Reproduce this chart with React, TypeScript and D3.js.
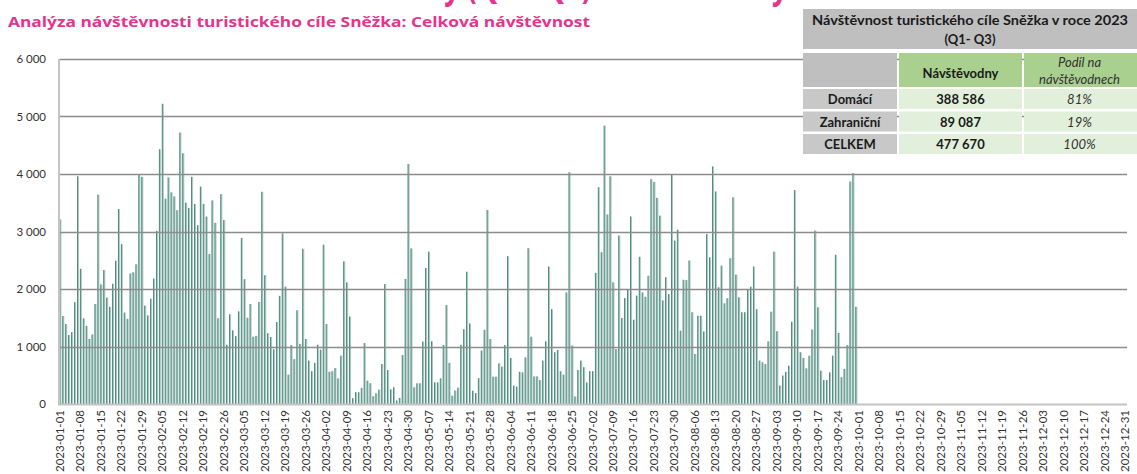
import React, { useRef, useEffect } from 'react';
import * as d3 from 'd3';

// daily visits 2023-01-01 .. 2023-09-30
const visits = [
  3210, 1530, 1390, 1200, 1250, 1770, 3960, 2350, 1490, 1360,
  1130, 1210, 1740, 3640, 2080, 2330, 1850, 1690, 2090, 2490,
  3390, 2780, 1590, 1480, 2270, 2290, 2430, 3990, 3950, 1710,
  1540, 1830, 2180, 3010, 4430, 5220, 3570, 3940, 3680, 3610,
  3370, 4720, 4360, 3500, 3410, 3950, 3480, 3110, 3780, 3480,
  3260, 2610, 3540, 3150, 1490, 3650, 3200, 1030, 1560, 1280,
  1180, 1610, 2890, 2170, 1500, 1740, 1170, 1185, 1775, 3690,
  2240, 1230, 1165, 950, 1425, 1880, 2965, 2040, 510, 1025,
  780, 1630, 1045, 2700, 1130, 755, 570, 715, 1030, 945,
  2770, 1390, 560, 570, 625, 445, 840, 2480, 2115, 1520,
  100, 205, 205, 280, 1060, 405, 360, 135, 185, 250,
  695, 2085, 590, 255, 290, 60, 105, 850, 2175, 4175,
  2705, 290, 360, 360, 1085, 2365, 2650, 1090, 375, 375,
  445, 1025, 1720, 715, 145, 235, 285, 1030, 1300, 2300,
  1400, 230, 190, 450, 930, 1290, 3375, 1130, 475, 475,
  705, 650, 1025, 2570, 800, 320, 300, 560, 550, 810,
  2710, 1170, 480, 480, 415, 755, 1090, 2390, 1650, 900,
  940, 570, 510, 1940, 4030, 1015, 130, 590, 755, 640,
  375, 570, 570, 2280, 3770, 2640, 4840, 3295, 3960, 2115,
  955, 2930, 1495, 1840, 1985, 3260, 1465, 1885, 2560, 1940,
  1865, 2230, 3910, 3860, 3585, 3275, 1800, 2205, 1910, 3985,
  2840, 3030, 1275, 2160, 2155, 2495, 1595, 870, 1535, 1535,
  1260, 2955, 2550, 4130, 3695, 2030, 2405, 1750, 1840, 2535,
  3595, 2250, 1855, 1595, 1595, 1985, 2040, 2390, 1650, 755,
  725, 695, 1090, 1605, 2650, 1265, 320, 495, 560, 665,
  1430, 3720, 2040, 900, 800, 620, 840, 1295, 3015, 1680,
  580, 415, 415, 550, 840, 2595, 1235, 465, 610, 1025,
  3870, 4015, 1690
];

const yTicks = [0, 1000, 2000, 3000, 4000, 5000, 6000];

const tableTitle = ['Návštěvnost turistického cíle Sněžka v roce 2023', '(Q1- Q3)'];
const tableRows = ['Domácí', 'Zahraniční', 'CELKEM'];
const tableVisitors = ['388 586', '89 087', '477 670'];
const tableShares = ['81%', '19%', '100%'];

const fmt = d3.timeFormat('%Y-%m-%d');

export default function App() {
  const svgRef = useRef(null);

  useEffect(() => {
    const width = 1137;
    const height = 474;
    const font = 'Lato, "Open Sans", sans-serif';

    // all days of the year are categories, data ends in September
    const days = d3.timeDay.range(new Date(2023, 0, 1), new Date(2024, 0, 1)).map(fmt);
    const tickDays = days.filter((d, i) => i % 7 === 0);

    const x = d3.scaleBand()
      .domain(days)
      .range([59, 1127])
      .paddingInner(0.33)
      .paddingOuter(0.15);

    const y = d3.scaleLinear()
      .domain([0, 6000])
      .range([404, 59]);

    const svg = d3.select(svgRef.current)
      .attr('width', width)
      .attr('height', height);
    svg.selectAll('*').remove();

    // heading above, cut off by the top edge
    svg.append('text')
      .attr('x', 180)
      .attr('y', -2)
      .attr('font-family', '"Open Sans", sans-serif')
      .attr('font-weight', 700)
      .attr('font-size', 38)
      .attr('fill', '#e6338c')
      .attr('textLength', 608)
      .attr('lengthAdjust', 'spacingAndGlyphs')
      .text('Návštěvnost Sněžky (Q1 – Q3) 2023 – Sněžky');

    svg.append('text')
      .attr('x', 8)
      .attr('y', 27)
      .attr('font-family', '"Open Sans", sans-serif')
      .attr('font-weight', 700)
      .attr('font-size', 15)
      .attr('fill', '#e6338c')
      .attr('textLength', 582)
      .attr('lengthAdjust', 'spacingAndGlyphs')
      .text('Analýza návštěvnosti turistického cíle Sněžka: Celková návštěvnost');

    // bars
    const bars = svg.append('g');
    bars.selectAll('rect.bar')
      .data(visits)
      .enter()
      .append('rect')
      .attr('class', 'bar')
      .attr('x', (d, i) => x(days[i]))
      .attr('y', d => y(d))
      .attr('width', x.bandwidth())
      .attr('height', d => y(0) - y(d))
      .attr('fill', '#a9c8c1');
    bars.selectAll('rect.edge')
      .data(visits)
      .enter()
      .append('rect')
      .attr('class', 'edge')
      .attr('x', (d, i) => x(days[i]))
      .attr('y', d => y(d))
      .attr('width', 0.8)
      .attr('height', d => y(0) - y(d))
      .attr('fill', '#3e7d6f');

    // gridlines
    svg.append('g')
      .selectAll('line')
      .data(yTicks.filter(d => d > 0))
      .enter()
      .append('line')
      .attr('x1', 59)
      .attr('x2', 1127)
      .attr('y1', d => Math.round(y(d)) + 0.5)
      .attr('y2', d => Math.round(y(d)) + 0.5)
      .attr('stroke', '#8c8c8c')
      .attr('stroke-width', 1.3);

    // axis lines
    svg.append('line')
      .attr('x1', 59).attr('x2', 59)
      .attr('y1', y(6000)).attr('y2', y(0) + 1)
      .attr('stroke', '#c4c4c4').attr('stroke-width', 2);
    svg.append('line')
      .attr('x1', 58).attr('x2', 1127)
      .attr('y1', y(0) + 0.5).attr('y2', y(0) + 0.5)
      .attr('stroke', '#c4c4c4').attr('stroke-width', 2);

    // y labels
    svg.append('g')
      .selectAll('text')
      .data(yTicks)
      .enter()
      .append('text')
      .attr('x', 46)
      .attr('y', d => y(d) + 4)
      .attr('text-anchor', 'end')
      .attr('font-family', font)
      .attr('font-size', 11.5)
      .attr('fill', '#333')
      .text(d => d === 0 ? '0' : d3.format(',')(d).replace(',', ' '));

    // x labels
    svg.append('g')
      .selectAll('text')
      .data(tickDays)
      .enter()
      .append('text')
      .attr('transform', d => `translate(${x(d) + x.bandwidth() / 2 + 3.5},410) rotate(-90)`)
      .attr('text-anchor', 'end')
      .attr('font-family', font)
      .attr('font-size', 11.5)
      .attr('fill', '#333')
      .attr('textLength', 62)
      .attr('lengthAdjust', 'spacingAndGlyphs')
      .text(d => d);

    // table
    const table = svg.append('g')
      .attr('font-family', font);
    table.append('rect')
      .attr('x', 803).attr('y', 9).attr('width', 334).attr('height', 40)
      .attr('fill', '#bfbfbf');
    tableTitle.forEach((t, i) => {
      table.append('text')
        .attr('x', 970)
        .attr('y', 25 + i * 19)
        .attr('text-anchor', 'middle')
        .attr('font-size', 13)
        .attr('font-weight', 700)
        .attr('fill', '#1a1a1a')
        .attr('textLength', i === 0 ? 316 : null)
        .attr('lengthAdjust', 'spacingAndGlyphs')
        .text(t);
    });

    const cols = [
      { x: 803, w: 94 },
      { x: 899, w: 123 },
      { x: 1024, w: 113 }
    ];
    table.append('rect')
      .attr('x', cols[0].x).attr('y', 53).attr('width', cols[0].w).attr('height', 34)
      .attr('fill', '#bfbfbf');
    table.append('rect')
      .attr('x', cols[1].x).attr('y', 53).attr('width', cols[1].w).attr('height', 34)
      .attr('fill', '#a9d08e');
    table.append('rect')
      .attr('x', cols[2].x).attr('y', 53).attr('width', cols[2].w).attr('height', 34)
      .attr('fill', '#a9d08e');
    table.append('text')
      .attr('x', cols[1].x + cols[1].w / 2).attr('y', 78)
      .attr('text-anchor', 'middle')
      .attr('font-size', 13).attr('font-weight', 700)
      .attr('fill', '#1a1a1a')
      .text('Návštěvodny');
    ['Podíl na', 'návštěvodnech'].forEach((t, i) => {
      table.append('text')
        .attr('x', cols[2].x + cols[2].w / 2 - 1).attr('y', 67 + i * 17)
        .attr('text-anchor', 'middle')
        .attr('font-size', 13).attr('font-style', 'italic')
        .attr('fill', '#333')
        .text(t);
    });

    const rowY = [89, 111.5, 134];
    tableRows.forEach((r, i) => {
      table.append('rect')
        .attr('x', cols[0].x).attr('y', rowY[i]).attr('width', cols[0].w).attr('height', 20)
        .attr('fill', '#c8c8c8');
      table.append('rect')
        .attr('x', cols[1].x).attr('y', rowY[i]).attr('width', cols[1].w).attr('height', 20)
        .attr('fill', '#e2efda');
      table.append('rect')
        .attr('x', cols[2].x).attr('y', rowY[i]).attr('width', cols[2].w).attr('height', 20)
        .attr('fill', '#e2efda');
      table.append('text')
        .attr('x', cols[0].x + cols[0].w / 2).attr('y', rowY[i] + 15)
        .attr('text-anchor', 'middle')
        .attr('font-size', 13).attr('font-weight', 700)
        .attr('fill', '#1a1a1a')
        .text(r);
      table.append('text')
        .attr('x', cols[1].x + cols[1].w / 2).attr('y', rowY[i] + 15)
        .attr('text-anchor', 'middle')
        .attr('font-size', 13).attr('font-weight', 700)
        .attr('fill', '#1a1a1a')
        .text(tableVisitors[i]);
      table.append('text')
        .attr('x', cols[2].x + cols[2].w / 2 - 1).attr('y', rowY[i] + 15)
        .attr('text-anchor', 'middle')
        .attr('font-size', 13).attr('font-style', 'italic')
        .attr('fill', '#333')
        .text(tableShares[i]);
    });
  }, []);

  return (
    <svg ref={svgRef} style={{ position: 'absolute', left: 0, top: 0, background: '#fff' }}></svg>
  );
}
